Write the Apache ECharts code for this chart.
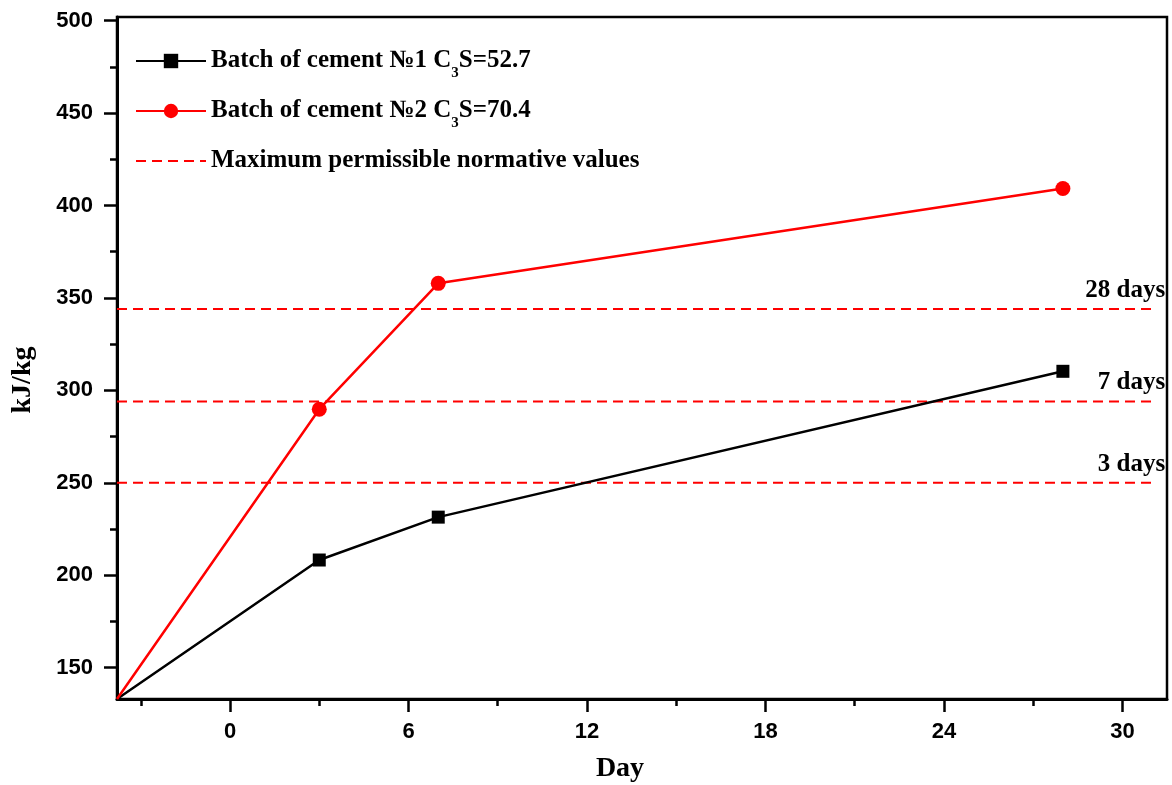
<!DOCTYPE html>
<html>
<head>
<meta charset="utf-8">
<script src="https://cdn.jsdelivr.net/npm/echarts@6/dist/echarts.min.js"></script>
<style>
  html, body { margin: 0; padding: 0; background: #fff; }
  #chart { width: 1172px; height: 785px; }
</style>
</head>
<body>
<div id="chart"></div>
<script>
// values
const days = [-3.8, 3, 7, 28]
const batch1 = [133, 208.2, 231.4, 310.3]
const batch2 = [133, 289.8, 357.9, 409.2]

const normLabels = ['3 days', '7 days', '28 days']
const normValues = [250, 294, 344]
const normDays = [-3.8, 31]

const xTicks = [0, 6, 12, 18, 24, 30]
const xMinorTicks = [-3, 3, 9, 15, 21, 27]
const yTicks = [150, 200, 250, 300, 350, 400, 450, 500]
const yMinorTicks = [175, 225, 275, 325, 375, 425, 475]

const batch1Name = 'Batch of cement №1 C3S=52.7'
const batch2Name = 'Batch of cement №2 C3S=70.4'
const normName = 'Maximum permissible normative values'

const serif = 'Liberation Serif'
const sans = 'Liberation Sans'

const toPoints = (values) => days.map((d, i) => {
  if (i === 0) return { value: [d, values[i]], symbol: 'none' }
  return [d, values[i]]
})

const normSeries = normValues.map((v, i) => ({
  name: normName,
  type: 'line',
  symbol: 'none',
  silent: true,
  z: 1,
  data: [
    [normDays[0], v],
    {
      value: [normDays[1], v],
      symbol: 'circle',
      symbolSize: 0.1,
      label: {
        show: true,
        formatter: normLabels[i],
        position: 'top',
        align: 'right',
        offset: [13, 0],
        distance: 6,
        color: '#000',
        fontFamily: serif,
        fontWeight: 'bold',
        fontSize: 25
      }
    }
  ],
  itemStyle: { color: '#f00' },
  lineStyle: { color: '#f00', width: 2, type: [10, 6] }
}))

const axisFont = { color: '#000', fontFamily: sans, fontWeight: 'bold', fontSize: 22 }
const nameFont = { color: '#000', fontFamily: serif, fontWeight: 'bold', fontSize: 28 }

const option = {
  animation: false,
  backgroundColor: '#fff',
  grid: {
    left: 117, right: 5, top: 17, bottom: 86,
    show: true, borderColor: '#000', borderWidth: 2.5,
    outerBoundsMode: 'none'
  },
  legend: {
    orient: 'vertical',
    left: 130,
    top: 36,
    itemWidth: 70,
    itemHeight: 18,
    itemGap: 10,
    selectedMode: false,
    data: [
      batch1Name,
      batch2Name,
      { name: normName, itemStyle: { color: 'transparent', borderWidth: 0 } }
    ],
    formatter: (name) => name.replace('C3S', 'C{s|3}S'),
    textStyle: {
      color: '#000',
      fontFamily: serif,
      fontWeight: 'bold',
      fontSize: 25,
      lineHeight: 40,
      rich: {
        s: { fontSize: 15, lineHeight: 15, padding: [25, 0, 0, 0] }
      }
    }
  },
  xAxis: [
    {
      type: 'value',
      min: -3.8,
      max: 31.5,
      name: 'Day',
      nameLocation: 'middle',
      nameGap: 56,
      nameTextStyle: Object.assign({ padding: [0, 44, 0, 0] }, nameFont),
      splitLine: { show: false },
      axisLine: { onZero: false, lineStyle: { color: '#000', width: 3 } },
      axisTick: { customValues: xTicks, length: 13, lineStyle: { color: '#000', width: 2.5 } },
      axisLabel: Object.assign({ customValues: xTicks, margin: 22 }, axisFont)
    },
    {
      type: 'value',
      position: 'bottom',
      min: -3.8,
      max: 31.5,
      splitLine: { show: false },
      axisLine: { show: false, onZero: false },
      axisTick: { customValues: xMinorTicks, length: 7, lineStyle: { color: '#000', width: 2.5 } },
      axisLabel: { show: false }
    }
  ],
  yAxis: [
    {
      type: 'value',
      min: 133,
      max: 502,
      name: 'kJ/kg',
      nameLocation: 'middle',
      nameGap: 80,
      nameTextStyle: Object.assign({ padding: [0, 44, 0, 0] }, nameFont),
      splitLine: { show: false },
      axisLine: { show: true, onZero: false, lineStyle: { color: '#000', width: 3 } },
      axisTick: { show: true, customValues: yTicks, length: 13, lineStyle: { color: '#000', width: 2.5 } },
      axisLabel: Object.assign({ customValues: yTicks, margin: 24 }, axisFont)
    },
    {
      type: 'value',
      position: 'left',
      min: 133,
      max: 502,
      splitLine: { show: false },
      axisLine: { show: false, onZero: false },
      axisTick: { show: true, customValues: yMinorTicks, length: 7, lineStyle: { color: '#000', width: 2.5 } },
      axisLabel: { show: false }
    }
  ],
  series: [
    {
      name: batch1Name,
      type: 'line',
      z: 3,
      symbol: 'rect',
      symbolSize: 13,
      data: toPoints(batch1),
      itemStyle: { color: '#000' },
      lineStyle: { color: '#000', width: 2.5 }
    },
    {
      name: batch2Name,
      type: 'line',
      z: 3,
      symbol: 'circle',
      symbolSize: 15,
      data: toPoints(batch2),
      itemStyle: { color: '#f00' },
      lineStyle: { color: '#f00', width: 2.5 }
    }
  ].concat(normSeries)
}

const chart = echarts.init(document.getElementById('chart'))
chart.setOption(option)
</script>
</body>
</html>
